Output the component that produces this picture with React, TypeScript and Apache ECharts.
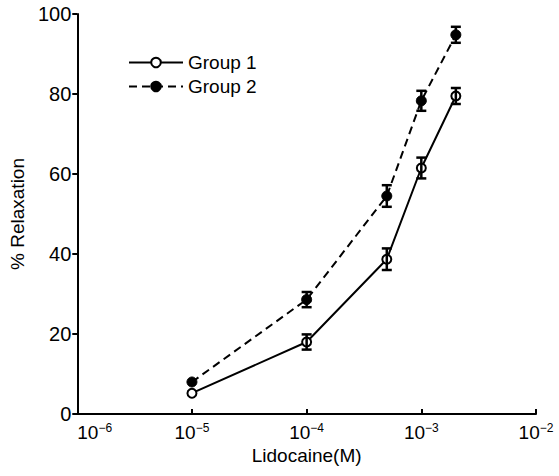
import React, { useEffect, useRef } from "react";
import * as echarts from "echarts";

const concentrations = [1e-5, 1e-4, 5e-4, 1e-3, 2e-3];
const group1 = [5.2, 18, 38.7, 61.5, 79.5];
const group1Err = [0, 1.9, 2.7, 2.6, 2];
const group2 = [8, 28.6, 54.5, 78.3, 94.8];
const group2Err = [0, 1.9, 2.7, 2.5, 2];
const yTicks = [0, 20, 40, 60, 80, 100];

const FONT = "'Liberation Sans', Arial, sans-serif";

function errorSeries(vals: number[], errs: number[]) {
  return {
    type: "custom",
    silent: true,
    z: 5,
    data: concentrations.map((c, i) => [c, vals[i], errs[i]]),
    encode: { x: 0, y: 1 },
    renderItem: (params: any, api: any) => {
      const x = api.value(0);
      const y = api.value(1);
      const e = api.value(2);
      if (!e) return { type: "group", children: [] };
      const top = api.coord([x, y + e]);
      const bot = api.coord([x, y - e]);
      const hw = 5;
      const st = { stroke: "#000", lineWidth: 2.5 };
      return {
        type: "group",
        children: [
          { type: "line", shape: { x1: top[0], y1: top[1], x2: bot[0], y2: bot[1] }, style: st },
          { type: "line", shape: { x1: top[0] - hw, y1: top[1], x2: top[0] + hw, y2: top[1] }, style: st },
          { type: "line", shape: { x1: bot[0] - hw, y1: bot[1], x2: bot[0] + hw, y2: bot[1] }, style: st },
        ],
      };
    },
  };
}

export default function App() {
  const ref = useRef<HTMLDivElement>(null);
  useEffect(() => {
    document.body.style.margin = "0";
    if (!ref.current) return;
    const chart = echarts.init(ref.current, null, { renderer: "svg" });
    chart.setOption({
      animation: false,
      backgroundColor: "#fff",
      textStyle: { fontFamily: FONT },
      grid: { left: 76, right: 23, top: 14, bottom: 62 },
      legend: {
        data: ["Group 1", "Group 2"],
        orient: "vertical",
        left: 123,
        top: 48,
        itemWidth: 54,
        itemHeight: 12,
        itemGap: 5,
        textStyle: { fontSize: 19, color: "#000", fontFamily: FONT },
      },
      xAxis: {
        type: "log",
        logBase: 10,
        min: 1e-6,
        max: 1e-2,
        name: "Lidocaine(M)",
        nameLocation: "middle",
        nameGap: 31,
        nameTextStyle: { fontSize: 19, color: "#000", fontFamily: FONT },
        axisLine: { lineStyle: { color: "#000", width: 2 } },
        axisTick: { inside: true, length: 5, lineStyle: { color: "#000", width: 2 } },
        splitLine: { show: false },
        minorTick: { show: false },
        axisLabel: {
          margin: 8,
          alignMinLabel: "left",
          formatter: (v: number) => {
            const e = Math.round(Math.log10(v));
            return `{b|10}{s|−${-e}}`;
          },
          rich: {
            b: { fontSize: 19, color: "#000", fontFamily: FONT, lineHeight: 20 },
            s: { fontSize: 12, color: "#000", fontFamily: FONT, verticalAlign: "top", lineHeight: 12 },
          },
        },
      },
      yAxis: {
        type: "value",
        min: 0,
        max: 100,
        interval: 20,
        name: "% Relaxation",
        nameLocation: "middle",
        nameRotate: 90,
        nameGap: 46,
        nameTextStyle: { fontSize: 19, color: "#000", fontFamily: FONT },
        axisLine: { show: true, lineStyle: { color: "#000", width: 2 } },
        axisTick: { show: true, inside: false, length: 5, lineStyle: { color: "#000", width: 2 } },
        splitLine: { show: false },
        axisLabel: {
          margin: 6,
          fontSize: 20,
          color: "#000",
          fontFamily: FONT,
          formatter: (v: number) => (yTicks.includes(v) ? String(v) : ""),
        },
      },
      series: [
        {
          name: "Group 1",
          type: "line",
          data: concentrations.map((c, i) => [c, group1[i]]),
          symbol: "circle",
          symbolSize: 9,
          lineStyle: { color: "#000", width: 2, type: "solid" },
          itemStyle: { color: "#fff", borderColor: "#000", borderWidth: 2 },
          z: 3,
        },
        {
          name: "Group 2",
          type: "line",
          data: concentrations.map((c, i) => [c, group2[i]]),
          symbol: "circle",
          symbolSize: 10,
          lineStyle: { color: "#000", width: 2, type: [8, 5] },
          itemStyle: { color: "#000", borderColor: "#000", borderWidth: 1 },
          z: 3,
        },
        errorSeries(group1, group1Err),
        errorSeries(group2, group2Err),
      ],
    });
    return () => chart.dispose();
  }, []);
  return <div ref={ref} style={{ width: 559, height: 476 }} />;
}
